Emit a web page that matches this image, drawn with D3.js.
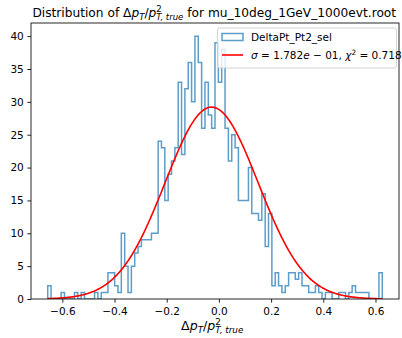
<!DOCTYPE html>
<html>
<head>
<meta charset="utf-8">
<script src="https://cdn.jsdelivr.net/npm/d3@7"></script>
<style>
  body { margin: 0; background: #fff; }
  svg { display: block; }
  text { font-family: "DejaVu Sans", sans-serif; fill: #000; }
</style>
</head>
<body>
<svg id="chart" width="402" height="338"></svg>
<script>
// histogram counts, 100 equal bins between binLo and binHi
var counts = [
  2, 0, 0, 0, 1, 0, 0, 0, 1, 0,
  1, 0, 0, 0, 1, 0, 1, 1, 4, 4,
  2, 1, 10, 5, 1, 5, 7, 8, 9, 9,
  9, 10, 10, 24, 23, 15, 19, 21, 23, 33,
  22, 32, 36, 30, 40, 36, 26, 33, 28, 26,
  39, 33, 38, 26, 21, 25, 23, 15, 15, 15,
  20, 13, 13, 12, 16, 8, 13, 2, 4, 2,
  1, 2, 4, 4, 3, 4, 2, 2, 1, 1,
  2, 1, 0, 1, 1, 0, 0, 1, 1, 0,
  1, 2, 1, 1, 1, 1, 0, 0, 0, 4
];
var binLo = -0.656, binHi = 0.626;

// gaussian fit drawn in red
var fitAmp = 29.2, fitMean = -0.028, fitSigma = 0.1782;

var xTicks = [-0.6, -0.4, -0.2, 0.0, 0.2, 0.4, 0.6];
var yTicks = [0, 5, 10, 15, 20, 25, 30, 35, 40];

var svg = d3.select("#chart");
var axL = 31, axR = 399, axT = 23, axB = 299;
var blue = "#1f77b4";

var span = binHi - binLo;
var x = d3.scaleLinear().domain([binLo - 0.05 * span, binHi + 0.05 * span]).range([axL, axR]);
var y = d3.scaleLinear().domain([0, 42]).range([axB, axT]);

svg.append("clipPath").attr("id", "clip")
  .append("rect").attr("x", axL).attr("y", axT).attr("width", axR - axL).attr("height", axB - axT);

var plot = svg.append("g").attr("clip-path", "url(#clip)");

// --- histogram as a step line ---
var bw = span / counts.length;
var pts = [[binLo, 0]];
counts.forEach(function(c, i) {
  pts.push([binLo + i * bw, c]);
  pts.push([binLo + (i + 1) * bw, c]);
});
pts.push([binHi, 0]);

plot.append("path")
  .attr("d", d3.line().x(function(d) { return x(d[0]); }).y(function(d) { return y(d[1]); })(pts))
  .attr("fill", "none")
  .attr("stroke", blue)
  .attr("stroke-opacity", 0.72)
  .attr("stroke-width", 1.5);

// --- fit curve ---
var fitX = d3.range(0, 301).map(function(i) { return binLo + span * i / 300; });
plot.append("path")
  .attr("d", d3.line()
    .x(function(v) { return x(v); })
    .y(function(v) { return y(fitAmp * Math.exp(-0.5 * Math.pow((v - fitMean) / fitSigma, 2))); })(fitX))
  .attr("fill", "none")
  .attr("stroke", "red")
  .attr("stroke-width", 1.6);

// --- axes ---
var fmt = function(v) { return d3.format(".1f")(v).replace("-", "\u2212"); };
var xAxis = svg.append("g").attr("transform", "translate(0," + axB + ")")
  .call(d3.axisBottom(x).tickValues(xTicks).tickFormat(fmt).tickSize(3.7).tickSizeOuter(0).tickPadding(5));
var yAxis = svg.append("g").attr("transform", "translate(" + axL + ",0)")
  .call(d3.axisLeft(y).tickValues(yTicks).tickSize(3.7).tickSizeOuter(0).tickPadding(3.5));
[xAxis, yAxis].forEach(function(a) {
  a.select(".domain").remove();
  a.selectAll("line").attr("stroke", "#000").attr("stroke-width", 0.85);
  a.selectAll("text").style("font-family", "DejaVu Sans").style("font-size", "10.5px").attr("fill", "#000");
});

svg.append("rect")
  .attr("x", axL).attr("y", axT).attr("width", axR - axL).attr("height", axB - axT)
  .attr("fill", "none").attr("stroke", "#000").attr("stroke-width", 0.85);

// --- math-ish text helper: parts are [text, italic, size factor, dy in em, dx in em] ---
function mathText(g, px, py, fs, parts, anchorMid) {
  var t = g.append("text").attr("x", px).attr("y", py).style("font-size", fs + "px");
  parts.forEach(function(p) {
    var s = t.append("tspan").text(p[0]);
    if (p[1]) s.style("font-style", "italic");
    if (p[2] && p[2] !== 1) s.style("font-size", (fs * p[2]) + "px");
    if (p[3]) s.attr("dy", (p[3] * fs).toFixed(2));
    if (p[4]) s.attr("dx", (p[4] * fs).toFixed(2));
  });
  if (anchorMid) {
    var w = t.node().getComputedTextLength();
    t.attr("x", px - w / 2);
  }
  return t;
}

var mid = (axL + axR) / 2;
mathText(svg, mid + 2, 17, 12.2, [
  ["Distribution of ", 0, 1, 0],
  ["\u0394", 0, 1, 0],
  ["p", 1, 1, 0],
  ["T", 1, 0.7, 0.22],
  ["/", 0, 1, -0.22],
  ["p", 1, 1, 0],
  ["2", 0, 0.7, -0.42],
  ["T, true", 1, 0.7, 0.68, -0.445],
  [" for mu_10deg_1GeV_1000evt.root", 0, 1, -0.26]
], true);

mathText(svg, mid, 330, 12.6, [
  ["\u0394", 0, 1, 0],
  ["p", 1, 1, 0],
  ["T", 1, 0.7, 0.22],
  ["/", 0, 1, -0.22],
  ["p", 1, 1, 0],
  ["2", 0, 0.7, -0.42],
  ["T, true", 1, 0.7, 0.68, -0.445]
], true);

// --- legend ---
var lg = svg.append("g");
lg.append("rect").attr("x", 217.5).attr("y", 28).attr("width", 179).attr("height", 40)
  .attr("rx", 2).attr("fill", "#fff").attr("fill-opacity", 0.8).attr("stroke", "#ccc").attr("stroke-width", 0.85);
lg.append("rect").attr("x", 222).attr("y", 33.5).attr("width", 21).attr("height", 7)
  .attr("fill", "none").attr("stroke", blue).attr("stroke-opacity", 0.72).attr("stroke-width", 1.5);
lg.append("line").attr("x1", 222).attr("x2", 243).attr("y1", 55).attr("y2", 55)
  .attr("stroke", "red").attr("stroke-width", 1.6);
mathText(lg, 251, 41, 10.5, [["DeltaPt_Pt2_sel", 0, 1, 0]]);
mathText(lg, 251, 59, 10.5, [
  ["\u03c3", 1, 1, 0],
  [" = 1.782", 0, 1, 0],
  ["e", 1, 1, 0],
  [" \u2212 01, ", 0, 1, 0],
  ["\u03c7", 1, 1, 0],
  ["2", 0, 0.7, -0.42],
  [" = 0.718", 0, 1, 0.42]
]);
</script>
</body>
</html>
